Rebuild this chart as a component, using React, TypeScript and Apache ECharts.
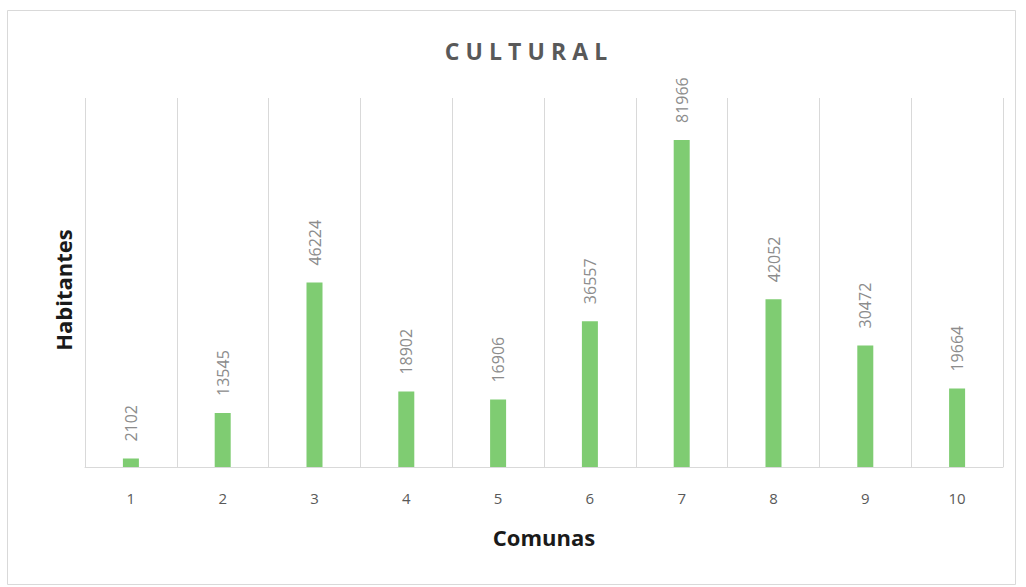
import React, { useEffect, useRef } from "react";
import * as echarts from "echarts";

const categories = ["1", "2", "3", "4", "5", "6", "7", "8", "9", "10"];
const habitantes = [2102, 13545, 46224, 18902, 16906, 36557, 81966, 42052, 30472, 19664];
const titleText = "CULTURAL";
const xTitle = "Comunas";
const yTitle = "Habitantes";

export default function App() {
  const ref = useRef<HTMLDivElement>(null);
  useEffect(() => {
    if (!ref.current) return;
    const chart = echarts.init(ref.current, null, { renderer: "svg" });
    const spaced = titleText.split("").join("\u2009\u200A");
    chart.setOption({
      animation: false,
      backgroundColor: "#ffffff",
      textStyle: { fontFamily: "Open Sans" },
      title: {
        text: spaced,
        left: 521,
        top: 34,
        textAlign: "center",
        textStyle: { fontSize: 23, fontWeight: "bold", color: "#595959", fontFamily: "Open Sans" },
      },
      graphic: [
        {
          type: "rect",
          shape: { x: 7.5, y: 10.5, width: 1008, height: 574 },
          style: { fill: "none", stroke: "#d9d9d9", lineWidth: 1 },
          silent: true,
        },
        {
          type: "text",
          x: 63,
          y: 290,
          rotation: Math.PI / 2,
          style: {
            text: yTitle,
            fontSize: 22,
            fontWeight: "bold",
            fill: "#1a1a1a",
            fontFamily: "Open Sans",
            align: "center",
            verticalAlign: "middle",
          },
          silent: true,
        },
      ],
      grid: { left: 85, right: 23, top: 98, bottom: 120, containLabel: false },
      xAxis: {
        type: "category",
        data: categories,
        name: xTitle,
        nameLocation: "middle",
        nameGap: 59,
        nameTextStyle: { fontSize: 22, fontWeight: "bold", color: "#1a1a1a", fontFamily: "Open Sans" },
        axisLine: { show: true, lineStyle: { color: "#d9d9d9", width: 1 } },
        axisTick: { show: false },
        axisLabel: { color: "#595959", fontSize: 15, margin: 23, fontFamily: "Open Sans" },
        splitLine: { show: true, lineStyle: { color: "#d9d9d9", width: 1 } },
      },
      yAxis: {
        type: "value",
        min: 0,
        max: 92500,
        axisLine: { show: false },
        axisTick: { show: false },
        axisLabel: { show: false },
        splitLine: { show: false },
      },
      series: [
        {
          type: "bar",
          data: habitantes,
          barWidth: 16,
          itemStyle: { color: "#7fcc72" },
          label: {
            show: true,
            position: "top",
            rotate: 90,
            align: "left",
            verticalAlign: "middle",
            distance: 17,
            color: "#8c8c8c",
            fontSize: 16,
            fontFamily: "Open Sans",
          },
        },
      ],
    });
    return () => chart.dispose();
  }, []);
  return (
    <div
      ref={ref}
      style={{ position: "fixed", left: 0, top: 0, width: 1026, height: 587 }}
    />
  );
}
